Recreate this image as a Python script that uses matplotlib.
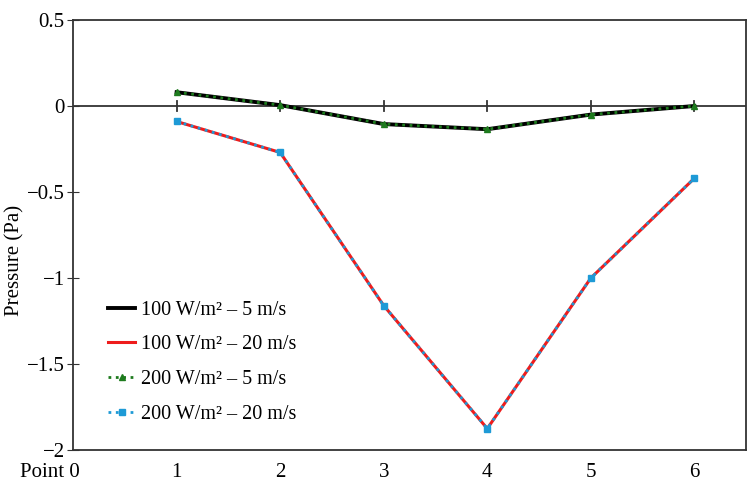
import matplotlib
matplotlib.use('Agg')
import matplotlib.pyplot as plt
from matplotlib.transforms import ScaledTranslation

plt.rcParams['font.family'] = ['Liberation Serif', 'DejaVu Serif']

# Data
points   = [1, 2, 3, 4, 5, 6]
p100_5   = [0.08, 0.005, -0.105, -0.135, -0.05, 0.0]
p100_20  = [-0.09, -0.27, -1.16, -1.875, -1.0, -0.42]
p200_5   = [0.08, 0.005, -0.105, -0.135, -0.05, 0.0]
p200_20  = [-0.09, -0.27, -1.16, -1.875, -1.0, -0.42]
labels   = ["100 W/m\u00b2 \u2013 5 m/s", "100 W/m\u00b2 \u2013 20 m/s",
            "200 W/m\u00b2 \u2013 5 m/s", "200 W/m\u00b2 \u2013 20 m/s"]

fig = plt.figure(figsize=(7.56, 4.99), dpi=100)
ax = fig.add_axes([0.0966, 0.098, 0.8904, 0.862])

ax.plot(points, p100_5, color='black', lw=2.8, label=labels[0])
ax.plot(points, p100_20, color='#ee1c1c', lw=2.2, label=labels[1])
ax.plot(points, p200_5, color='#1e7b1e', lw=2.0, ls=':', marker='^', ms=4, label=labels[2])
ax.plot(points, p200_20, color='#1e9ad6', lw=2.0, ls=':', marker='s', ms=4, label=labels[3])

# zero line with crossing ticks
ax.axhline(0, color='#333333', lw=1.3, zorder=1)
for xp in points:
    ax.plot([xp, xp], [-0.03, 0.03], color='#333333', lw=1.3, zorder=1)

ax.set_xlim(0, 6.5)
ax.set_ylim(-2, 0.5)
ax.set_xticks([0] + points)
ax.set_xticklabels(['Point 0'] + [str(p) for p in points])
ax.set_yticks([-2, -1.5, -1, -0.5, 0, 0.5])
ax.set_yticklabels(['\u22122', '\u22121.5', '\u22121', '\u22120.5', '0', '0.5'])
ax.tick_params(axis='x', length=0, labelsize=15, pad=9)
ax.tick_params(axis='y', length=8, labelsize=15, direction='inout', color='#333333', pad=2)
first = ax.get_xticklabels()[0]
first.set_ha('right')
first.set_transform(first.get_transform() + ScaledTranslation(0.07, 0, fig.dpi_scale_trans))
for s in ax.spines.values():
    s.set_color('#333333')
    s.set_linewidth(1.3)

ax.set_ylabel('Pressure (Pa)', fontsize=15)
ax.yaxis.set_label_coords(-0.072, 0.44)
ax.legend(loc='lower left', bbox_to_anchor=(0.04, 0.042), borderaxespad=0, frameon=False,
          fontsize=14.5, handlelength=1.35, handletextpad=0.3, labelspacing=0.78)

fig.savefig('out.png', dpi=100)
